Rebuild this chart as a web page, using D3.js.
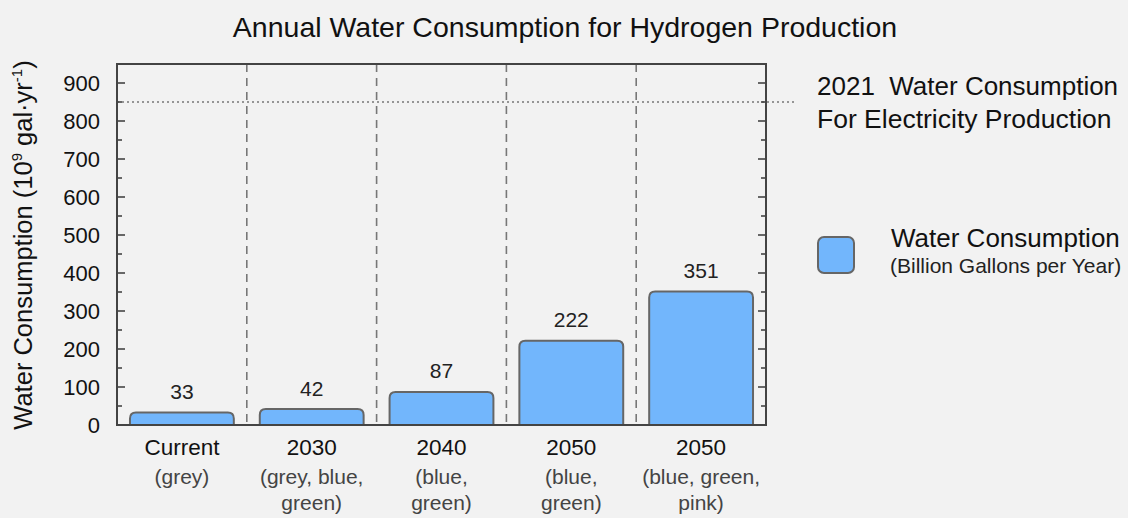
<!DOCTYPE html>
<html>
<head>
<meta charset="utf-8">
<script src="https://cdn.jsdelivr.net/npm/d3@7"></script>
<style>
  body { margin: 0; background: #f2f2f2; }
  svg { display: block; font-family: "Liberation Sans", Arial, sans-serif; }
  text { white-space: pre; }
</style>
</head>
<body>
<svg></svg>
<script>
const categories = ["Current", "2030", "2040", "2050", "2050 "];
const subLabels = [["(grey)"], ["(grey, blue,", "green)"], ["(blue,", "green)"], ["(blue,", "green)"], ["(blue, green,", "pink)"]];
const values = [33, 42, 87, 222, 351];
const yTicks = [0, 100, 200, 300, 400, 500, 600, 700, 800, 900];
const electricityLine = 850;

const width = 1128;
const height = 518;
const plot = { left: 117, right: 766, top: 64, bottom: 425 };

const svg = d3.select("svg").attr("width", width).attr("height", height);

const xScale = d3.scaleBand()
  .domain(categories)
  .range([plot.left, plot.right])
  .paddingInner(0.2)
  .paddingOuter(0.1);

const yScale = d3.scaleLinear()
  .domain([0, 950])
  .range([plot.bottom, plot.top]);

// title
svg.append("text")
  .attr("x", 565).attr("y", 37)
  .attr("text-anchor", "middle")
  .attr("font-size", 28.5)
  .attr("fill", "#111")
  .text("Annual Water Consumption for Hydrogen Production");

// separators between categories
const step = xScale.step();
svg.selectAll(".sep")
  .data(categories.slice(1))
  .enter()
  .append("line")
  .attr("x1", d => xScale(d) - step * 0.1)
  .attr("x2", d => xScale(d) - step * 0.1)
  .attr("y1", plot.top)
  .attr("y2", plot.bottom)
  .attr("stroke", "#777")
  .attr("stroke-width", 1.6)
  .attr("stroke-dasharray", "8,6");

// 2021 electricity reference line
svg.append("line")
  .attr("x1", plot.left).attr("x2", 797)
  .attr("y1", yScale(electricityLine)).attr("y2", yScale(electricityLine))
  .attr("stroke", "#777")
  .attr("stroke-width", 1.6)
  .attr("stroke-dasharray", "2,3");

// bars with rounded top corners
const r = 6;
const barPath = (d, i) => {
  const x0 = xScale(categories[i]);
  const x1 = x0 + xScale.bandwidth();
  const y0 = yScale(0);
  const y1 = yScale(d);
  return `M${x0},${y0} V${y1 + r} Q${x0},${y1} ${x0 + r},${y1} H${x1 - r} Q${x1},${y1} ${x1},${y1 + r} V${y0}`;
};

svg.selectAll(".bar")
  .data(values)
  .enter()
  .append("path")
  .attr("class", "bar")
  .attr("d", barPath)
  .attr("fill", "#72b6fc")
  .attr("stroke", "#666")
  .attr("stroke-width", 2);

svg.selectAll(".val")
  .data(values)
  .enter()
  .append("text")
  .attr("x", (d, i) => xScale(categories[i]) + xScale.bandwidth() / 2)
  .attr("y", d => yScale(d) - 13.5)
  .attr("text-anchor", "middle")
  .attr("font-size", 21)
  .attr("fill", "#222")
  .text(d => d);

// axes
const yAxisL = d3.axisLeft(yScale).tickValues(yTicks).tickSize(0).tickPadding(17);
const gy = svg.append("g").attr("transform", `translate(${plot.left},0)`).call(yAxisL);
gy.select(".domain").remove();
gy.selectAll("text").attr("font-size", 22).attr("fill", "#111").attr("font-family", "Liberation Sans, Arial, sans-serif");

const minor = d3.range(0, 951, 50);
const tickG = svg.append("g");
tickG.selectAll(".tl")
  .data(minor)
  .enter()
  .append("line")
  .attr("x1", plot.left)
  .attr("x2", d => plot.left + (d % 100 === 0 ? 8 : 5))
  .attr("y1", d => yScale(d)).attr("y2", d => yScale(d))
  .attr("stroke", "#444").attr("stroke-width", 1.6);
tickG.selectAll(".tr")
  .data(minor)
  .enter()
  .append("line")
  .attr("x1", plot.right)
  .attr("x2", d => plot.right - (d % 100 === 0 ? 8 : 5))
  .attr("y1", d => yScale(d)).attr("y2", d => yScale(d))
  .attr("stroke", "#444").attr("stroke-width", 1.6);

// frame
svg.append("rect")
  .attr("x", plot.left).attr("y", plot.top)
  .attr("width", plot.right - plot.left).attr("height", plot.bottom - plot.top)
  .attr("fill", "none")
  .attr("stroke", "#444")
  .attr("stroke-width", 2);

// category labels
const catG = svg.selectAll(".cat")
  .data(categories)
  .enter()
  .append("text")
  .attr("text-anchor", "middle")
  .attr("transform", d => `translate(${xScale(d) + xScale.bandwidth() / 2},0)`);

catG.append("tspan")
  .attr("x", 0).attr("y", 455)
  .attr("font-size", 22.5)
  .attr("fill", "#111")
  .text(d => d.trim());

catG.each(function (d, i) {
  d3.select(this).selectAll(".sub")
    .data(subLabels[i])
    .enter()
    .append("tspan")
    .attr("x", 0)
    .attr("y", (s, j) => 484 + j * 26)
    .attr("font-size", 21)
    .attr("fill", "#444")
    .text(s => s);
});

// y axis title
svg.append("text")
  .attr("transform", `translate(32,245) rotate(-90)`)
  .attr("text-anchor", "middle")
  .attr("font-size", 25.5)
  .attr("fill", "#111")
  .html('Water Consumption (10<tspan dy="-10" font-size="15">9</tspan><tspan dy="10"> gal·yr</tspan><tspan dy="-10" font-size="15">-1</tspan><tspan dy="10">)</tspan>');

// reference annotation
svg.append("text")
  .attr("x", 817).attr("y", 95)
  .attr("font-size", 26)
  .attr("fill", "#111")
  .text("2021  Water Consumption");
svg.append("text")
  .attr("x", 817).attr("y", 128)
  .attr("font-size", 26.5)
  .attr("fill", "#111")
  .text("For Electricity Production");

// legend
svg.append("rect")
  .attr("x", 818).attr("y", 237)
  .attr("width", 36).attr("height", 36)
  .attr("rx", 6)
  .attr("fill", "#72b6fc")
  .attr("stroke", "#666")
  .attr("stroke-width", 2);
svg.append("text")
  .attr("x", 891).attr("y", 247)
  .attr("font-size", 26)
  .attr("fill", "#111")
  .text("Water Consumption");
svg.append("text")
  .attr("x", 890).attr("y", 273)
  .attr("font-size", 21)
  .attr("fill", "#222")
  .text("(Billion Gallons per Year)");
</script>
</body>
</html>
